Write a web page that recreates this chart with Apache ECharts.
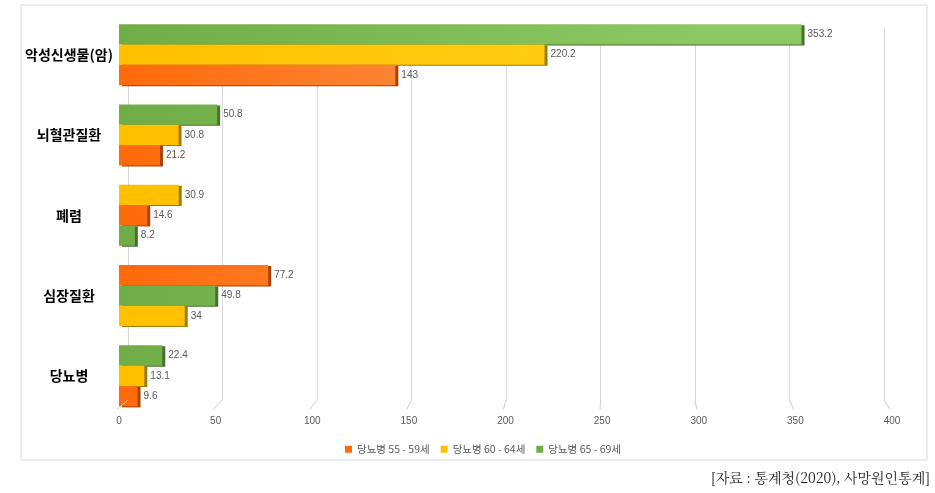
<!DOCTYPE html>
<html><head><meta charset="utf-8">
<script src="https://cdn.jsdelivr.net/npm/echarts@6/dist/echarts.min.js"></script>
<style>html,body{margin:0;padding:0;background:#fff}#c{width:935px;height:493px}</style>
</head><body><div id="c"></div>
<script>
const categories = ['악성신생물(암)', '뇌혈관질환', '폐렴', '심장질환', '당뇨병'];
const seriesNames = ['당뇨병 55 - 59세', '당뇨병 60 - 64세', '당뇨병 65 - 69세'];
const s55 = [143, 21.2, 14.6, 77.2, 9.6];
const s60 = [220.2, 30.8, 30.9, 34, 13.1];
const s65 = [353.2, 50.8, 8.2, 49.8, 22.4];
const xTicks = [0, 50, 100, 150, 200, 250, 300, 350, 400];

const values = [s55, s60, s65];
const baseColors = ['#FF6A0A', '#FFC000', '#70AD47'];
const lightColors = ['#F9A060', '#FFD21A', '#8CC863'];
const shadowColors = ['#A84300', '#A07A00', '#46702C'];

function grad(i) {
  return new echarts.graphic.LinearGradient(119, 0, 700, 0, [
    {offset: 0, color: baseColors[i]}, {offset: 1, color: lightColors[i]}
  ], true);
}

// Within each category, bars are ordered by value (largest on top)
const slots = [[], [], []];
categories.forEach((c, ci) => {
  const arr = [0, 1, 2].map(si => ({si, v: values[si][ci]}));
  arr.sort((a, b) => b.v - a.v);
  arr.forEach((o, k) => {
    slots[k].push({
      value: o.v,
      itemStyle: {color: grad(o.si), shadowColor: shadowColors[o.si]}
    });
  });
});

const labelStyle = {show: true, position: 'right', distance: 6, color: '#595959',
  fontSize: 10, fontFamily: 'Liberation Sans'};

const series = slots.map((d, k) => ({
  type: 'bar', name: 'slot' + k, xAxisIndex: 0, yAxisIndex: 0,
  data: d, barGap: '0%', barCategoryGap: '24%',
  itemStyle: {shadowBlur: 0, shadowOffsetX: 3, shadowOffsetY: 1},
  label: labelStyle, silent: true
}));
seriesNames.forEach((n, i) => series.push({
  type: 'bar', name: n, xAxisIndex: 1, yAxisIndex: 1, data: [],
  itemStyle: {color: baseColors[i]}
}));

const chart = echarts.init(document.getElementById('c'), null, {renderer: 'canvas'});
chart.setOption({
  animation: false,
  backgroundColor: '#fff',
  grid: [
    {left: 119, right: 43, top: 14.5, bottom: 77},
    {left: 128, right: 51, top: 28, bottom: 93}
  ],
  xAxis: [
    {type: 'value', gridIndex: 0, min: 0, max: 400, interval: 50,
      axisLine: {show: false}, axisTick: {show: false}, splitLine: {show: false},
      axisLabel: {margin: 0, color: '#595959', fontSize: 10, fontFamily: 'Liberation Sans',
        formatter: v => xTicks.includes(v) ? String(v) : ''}},
    {type: 'value', gridIndex: 1, min: 0, max: 400, interval: 50,
      axisLine: {show: false}, axisTick: {show: false}, axisLabel: {show: false},
      splitLine: {show: true, lineStyle: {color: '#D9D9D9', width: 1}}}
  ],
  yAxis: [
    {type: 'category', gridIndex: 0, data: categories, inverse: true,
      axisLine: {show: false}, axisTick: {show: false},
      axisLabel: {margin: 50, align: 'center', color: '#000', fontSize: 14, fontWeight: 'bold',
        fontFamily: 'Noto Sans CJK KR'}},
    {type: 'category', gridIndex: 1, data: categories, show: false}
  ],
  legend: {
    data: seriesNames, top: 439, left: 340, icon: 'rect', itemWidth: 7, itemHeight: 7,
    itemGap: 11, textStyle: {color: '#595959', fontSize: 10.5, fontFamily: 'Noto Sans CJK KR'}
  },
  series: series
});

// floor lines connecting back-wall gridlines to front axis
const gfx = [];
xTicks.forEach(v => {
  const xb = chart.convertToPixel({xAxisIndex: 1}, v);
  const xf = chart.convertToPixel({xAxisIndex: 0}, v);
  gfx.push({type: 'line', shape: {x1: xb, y1: 400, x2: xf - 2, y2: 409},
    style: {stroke: '#CCCCCC', lineWidth: 1}, silent: true, z: 10});
});
gfx.push({type: 'rect', shape: {x: 21, y: 5, width: 906, height: 455},
  style: {fill: 'none', stroke: '#D9D9D9', lineWidth: 1}, silent: true, z: -1});
gfx.push({type: 'text', right: 5, top: 471,
  style: {text: '[자료 : 통계청(2020), 사망원인통계]', fill: '#222', fontSize: 14,
    fontFamily: 'Noto Serif CJK KR, Noto Sans CJK KR, serif'}});
chart.setOption({graphic: gfx});
</script>
</body></html>
